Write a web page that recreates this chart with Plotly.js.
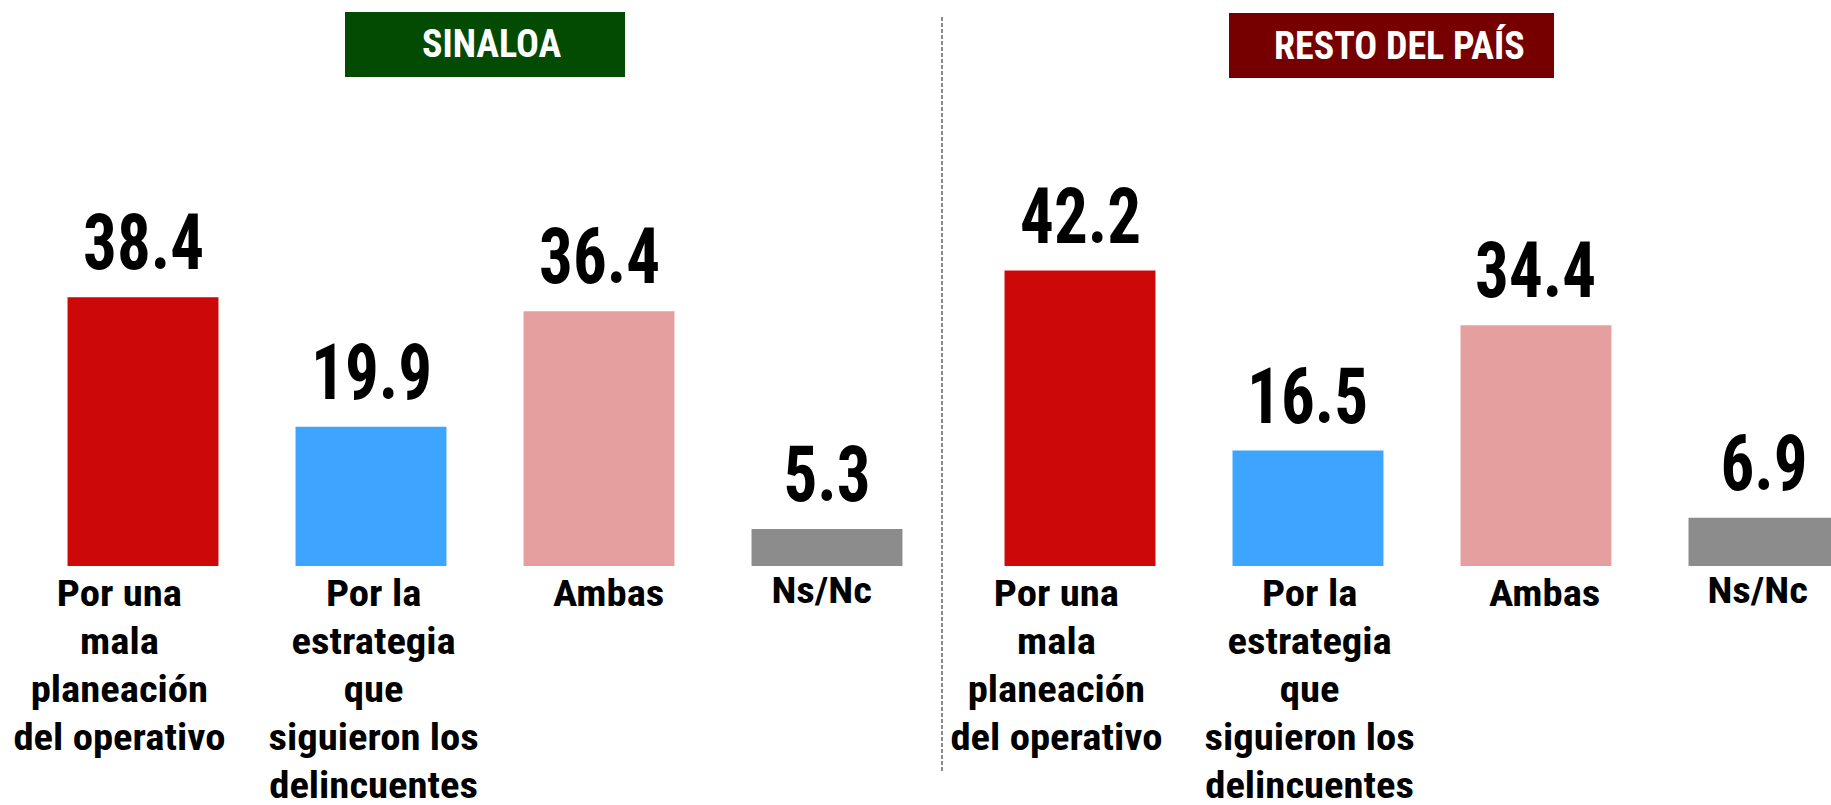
<!DOCTYPE html>
<html>
<head>
<meta charset="utf-8">
<script src="https://cdn.plot.ly/plotly-3.0.1.min.js"></script>
<style>html,body{margin:0;padding:0;background:#fff;}#chart{width:1831px;height:805px;}</style>
</head>
<body>
<div id="chart"></div>
<script>
const categories = [
  "Por una<br>mala<br>planeación<br>del operativo",
  "Por la<br>estrategia<br>que<br>siguieron los<br>delincuentes",
  "Ambas",
  "Ns/Nc"
];
const sinaloaValues = [38.4, 19.9, 36.4, 5.3];
const restoValues = [42.2, 16.5, 34.4, 6.9];
const barColors = ["#CC0808", "#3DA5FF", "#E59F9F", "#8C8C8C"];
const panelTitles = ["SINALOA", "RESTO DEL PAÍS"];

const FONT = '"Liberation Sans Narrow", "Arial Narrow", "Roboto Condensed", "DejaVu Sans Condensed", sans-serif';
const W = 1831, H = 805;
// styling: small horizontal / vertical nudges of the category captions (px)
const captionDx = [-24, 2, 9, -6];
const captionDy = [0, 0, 0, 3];

const traces = [
  {type: 'bar', x: categories, y: sinaloaValues, xaxis: 'x', yaxis: 'y',
   marker: {color: barColors}, hoverinfo: 'skip', showlegend: false},
  {type: 'bar', x: categories, y: restoValues, xaxis: 'x2', yaxis: 'y2',
   marker: {color: barColors}, hoverinfo: 'skip', showlegend: false}
];

const annotations = [];
const stretch = [];
[[sinaloaValues, 'x', 'y'], [restoValues, 'x2', 'y2']].forEach(([vals, xr, yr]) => {
  vals.forEach((v, i) => {
    annotations.push({
      x: categories[i], y: v, xref: xr, yref: yr,
      text: v.toFixed(1), showarrow: false, yanchor: 'bottom', yshift: 7,
      font: {family: FONT, size: 77, color: '#000', weight: 700}
    });
    stretch.push(0.87);
    annotations.push({
      x: categories[i], y: 0, xref: xr, yref: yr,
      text: categories[i], showarrow: false, xanchor: 'center', yanchor: 'top', align: 'center',
      xshift: captionDx[i], yshift: -4 + captionDy[i],
      font: {family: FONT, size: 37, color: '#000', weight: 700}
    });
    stretch.push(1.1);
  });
});

const headerBoxes = [
  {x0: 345, x1: 625, y0: 12, y1: 77, color: '#034A03', tx: 492},
  {x0: 1229, x1: 1554, y0: 13, y1: 78, color: '#760000', tx: 1399}
];
const shapes = [];
headerBoxes.forEach((b, i) => {
  shapes.push({type: 'rect', xref: 'paper', yref: 'paper',
    x0: b.x0 / W, x1: b.x1 / W, y0: 1 - b.y1 / H, y1: 1 - b.y0 / H,
    fillcolor: b.color, line: {width: 0}, layer: 'below'});
  annotations.push({xref: 'paper', yref: 'paper', x: b.tx / W, y: 1 - ((b.y0 + b.y1) / 2) / H,
    text: panelTitles[i], showarrow: false, xanchor: 'center', yanchor: 'middle',
    font: {family: FONT, size: 38, color: '#fff', weight: 700}});
  stretch.push(1);
});
shapes.push({type: 'line', xref: 'paper', yref: 'paper',
  x0: 942 / W, x1: 942 / W, y0: 1 - 17 / H, y1: 1 - 773 / H,
  line: {color: '#666', width: 1.5, dash: '4px,2px'}});

const yTop = 566 / 7.0;

const layout = {
  width: W, height: H,
  margin: {l: 0, r: 0, t: 0, b: 0, pad: 0},
  paper_bgcolor: '#fff', plot_bgcolor: 'rgba(0,0,0,0)',
  bargap: 0.338,
  xaxis: {domain: [29 / W, 941 / W], range: [-0.5, 3.5], type: 'category', anchor: 'y',
    showgrid: false, zeroline: false, showline: false, ticks: '', showticklabels: false, fixedrange: true},
  xaxis2: {domain: [966 / W, 1], range: [-0.5, 3.294], type: 'category', anchor: 'y2',
    showgrid: false, zeroline: false, showline: false, ticks: '', showticklabels: false, fixedrange: true},
  yaxis: {domain: [1 - 566 / H, 1], range: [0, yTop], visible: false, anchor: 'x', fixedrange: true},
  yaxis2: {domain: [1 - 566 / H, 1], range: [0, yTop], visible: false, anchor: 'x2', fixedrange: true},
  annotations: annotations,
  shapes: shapes,
  font: {family: FONT}
};

// adjust glyph proportions horizontally, around each label's own centre
function stretchX(el, s) {
  if (s === 1) return;
  const cx = parseFloat(el.getAttribute('x')) || 0;
  const prev = el.getAttribute('transform') || '';
  el.setAttribute('transform', prev + ' translate(' + cx + ',0) scale(' + s + ',1) translate(' + (-cx) + ',0)');
}

Plotly.newPlot('chart', traces, layout, {displayModeBar: false, staticPlot: true}).then(gd => {
  gd.querySelectorAll('.annotation').forEach(g => {
    const idx = parseInt(g.getAttribute('data-index'), 10);
    const t = g.querySelector('.annotation-text');
    if (t && !isNaN(idx)) stretchX(t, stretch[idx]);
  });
});
</script>
</body>
</html>
